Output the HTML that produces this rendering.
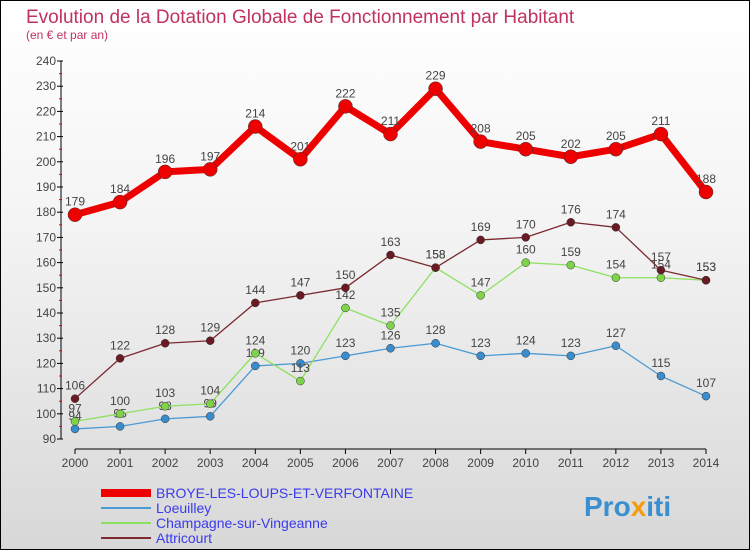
<!DOCTYPE html>
<html><head><meta charset="utf-8"><style>
body{margin:0;}
#wrap{position:relative;width:748px;height:548px;border:1px solid #000;background:linear-gradient(#ffffff 0%,#f4f4f4 40%,#d8d8d8 100%);font-family:"Liberation Sans",sans-serif;overflow:hidden;}
</style></head><body>
<div id="wrap">
<svg id="chart" width="748" height="548">
<text x="25" y="22" font-size="19" fill="#c0335f">Evolution de la Dotation Globale de Fonctionnement par Habitant</text>
<text x="25" y="38" font-size="12" fill="#c0335f">(en € et par an)</text>
<g id="axes"></g><g id="series"></g><g id="legend"></g>
<text x="583" y="515" font-size="28" font-weight="bold" fill="#3a8fd0">Pro<tspan fill="#f39c12">x</tspan>iti</text>
</svg>
</div>
<script>
const years=[2000,2001,2002,2003,2004,2005,2006,2007,2008,2009,2010,2011,2012,2013,2014];
const yTicks=[90,100,110,120,130,140,150,160,170,180,190,200,210,220,230,240];
const broye=[179,184,196,197,214,201,222,211,229,208,205,202,205,211,188];
const loeuilley=[94,95,98,99,119,120,123,126,128,123,124,123,127,115,107];
const champagne=[97,100,103,104,124,113,142,135,158,147,160,159,154,154,153];
const attricourt=[106,122,128,129,144,147,150,163,158,169,170,176,174,157,153];
const names=["BROYE-LES-LOUPS-ET-VERFONTAINE","Loeuilley","Champagne-sur-Vingeanne","Attricourt"];
const NS="http://www.w3.org/2000/svg";
const xs=i=>74+i*(705-74)/(years.length-1);
const ys=v=>438-(v-90)*(438-60)/150;
function mk(tag,attrs,parent,txt){const e=document.createElementNS(NS,tag);for(const k in attrs)e.setAttribute(k,attrs[k]);if(txt!==undefined)e.textContent=txt;parent.appendChild(e);return e;}
const ax=document.getElementById('axes');
let l=mk('line',{x1:60,y1:60,x2:60,y2:438,stroke:'#000'},ax);


l=mk('line',{x1:74,y1:448,x2:705,y2:448,stroke:'#000'},ax);


yTicks.forEach(v=>{
 const y=ys(v);
 mk('line',{x1:56,y1:y,x2:62,y2:y,stroke:'#000'},ax);
 if(v<240)mk('line',{x1:58,y1:y-12.6,x2:61,y2:y-12.6,stroke:'#e00'},ax);
 const t=mk('text',{x:55,y:y+4,'font-size':12,'text-anchor':'end',fill:'#444'},ax,v);
 
 
});
years.forEach((yr,i)=>{
 const x=xs(i);
 mk('line',{x1:x,y1:448,x2:x,y2:453,stroke:'#000'},ax);
 const t=mk('text',{x:x,y:466,'font-size':12,'text-anchor':'middle',fill:'#444'},ax,yr);
 
 
});
const sg=document.getElementById('series');
function draw(data,color,dot,w,r,name){
 const g=mk('g',{},sg);
 
 
 const p=mk('polyline',{points:data.map((v,i)=>xs(i)+','+ys(v)).join(' '),fill:'none',stroke:color,'stroke-width':w,'stroke-linejoin':'round'},g);
 
 
 data.forEach((v,i)=>{
  const c=mk('circle',{cx:xs(i),cy:ys(v),r:r,fill:dot,stroke:'#333','stroke-width':0.5},g);
  
  
  const t=mk('text',{x:xs(i),y:ys(v)-9,'font-size':12,'text-anchor':'middle',fill:'#444'},g,v);
  
  
 });
}
draw(loeuilley,'#4a9ad4','#3a8ccc',1.3,4,'loeuilley-series');
draw(champagne,'#8de060','#7ed348',1.3,4,'champagne-series');
draw(attricourt,'#7a2a30','#6a1a22',1.3,4,'attricourt-series');
draw(broye,'#ee0000','#ee0000',7,7,'broye-series');
const lg=document.getElementById('legend');
const lc=['#ee0000','#4a9ad4','#8de060','#7a2a30'],lw=[8,2,2,2];
names.forEach((n,i)=>{
 const y=492+i*15;
 const ln=mk('line',{x1:100,y1:y,x2:150,y2:y,stroke:lc[i],'stroke-width':lw[i]},lg);
 
 
 const t=mk('text',{x:155,y:y+5,'font-size':14,fill:'#3a3aee'},lg,n);
 
 
});
</script>
</body></html>
